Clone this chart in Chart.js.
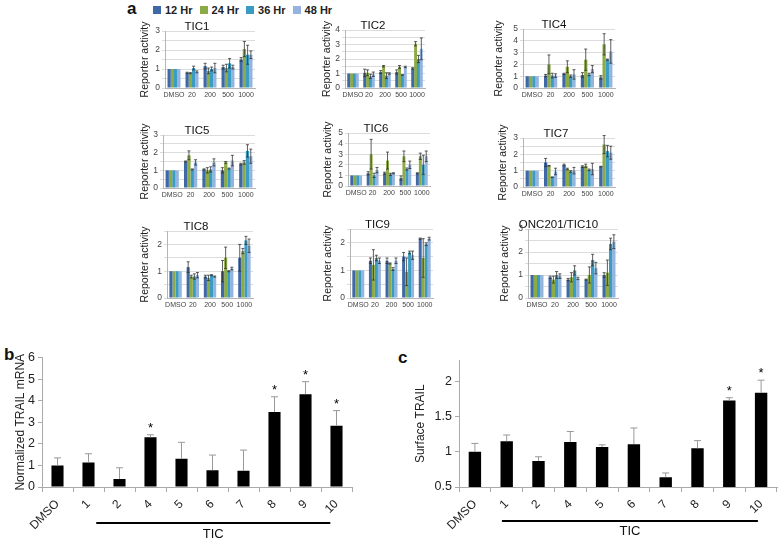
<!DOCTYPE html>
<html>
<head>
<meta charset="utf-8">
<script src="https://cdn.jsdelivr.net/npm/chart.js@4.4.0/dist/chart.umd.min.js"></script>
<style>
  body { margin: 0; background: #fff; }
  #fig { position: relative; width: 778px; height: 541px; overflow: hidden; background: #fff;
         font-family: "Liberation Sans", Arial, sans-serif; color: #111; }
  #fig canvas { position: absolute; }
  .panel { position: absolute; font-weight: bold; font-size: 17px; line-height: 17px; }
  #legend { position: absolute; left: 153px; top: 4px; font-size: 11px; font-weight: bold; color: #222; white-space: nowrap; }
  #legend span.item { display: inline-block; margin-right: 7px; }
  #legend span.sw { display: inline-block; width: 8px; height: 8px; margin-right: 4px; vertical-align: -0px; }
</style>
</head>
<body>
<div id="fig">
  <div class="panel" style="left:127px;top:0px">a</div>
  <div class="panel" style="left:4px;top:346px">b</div>
  <div class="panel" style="left:398px;top:349px">c</div>
  <div id="legend"></div>
</div>
<script>
// ---- panel a data: rows = 12, 24, 36, 48 Hr; columns = doses ----
const doses = ['DMSO', '20', '200', '500', '1000'];
const hours = ['12 Hr', '24 Hr', '36 Hr', '48 Hr'];

const tic1Vals = [[1, 0.8, 1.15, 1.1, 1.5], [1, 0.78, 0.9, 1.05, 2.05], [1, 1.05, 1.0, 1.3, 1.75], [1, 0.85, 1.05, 1.1, 1.75]];
const tic1Errs = [[0, 0.03, 0.15, 0.1, 0.1], [0, 0.03, 0.15, 0.2, 0.4], [0, 0.1, 0.1, 0.25, 0.5], [0, 0.05, 0.25, 0.1, 0.2]];

const tic2Vals = [[1, 1.05, 1.1, 1.1, 1.35], [1, 1.05, 1.5, 1.45, 3.05], [1, 0.8, 0.85, 0.9, 2.0], [1, 0.95, 1.0, 1.45, 2.7]];
const tic2Errs = [[0, 0.25, 0.1, 0.15, 0.05], [0, 0.2, 0.05, 0.1, 0.15], [0, 0.15, 0.2, 0.02, 0.25], [0, 0.15, 0.05, 0.05, 0.75]];

const tic4Vals = [[1, 1.05, 1.2, 1.1, 0.9], [1, 2.0, 1.8, 2.4, 3.7], [1, 1.05, 1.0, 1.15, 2.4], [1, 1.05, 1.15, 1.6, 3.1]];
const tic4Errs = [[0, 0.1, 0.05, 0.2, 0.15], [0, 0.8, 0.5, 0.9, 0.9], [0, 0.2, 0.1, 0.1, 0.05], [0, 0.15, 0.4, 0.3, 1.0]];

const tic5Vals = [[1, 1.5, 1.05, 1.0, 1.35], [1, 1.85, 1.0, 1.45, 1.45], [1, 1.05, 1.05, 1.1, 2.1], [1, 1.45, 1.45, 1.55, 1.8]];
const tic5Errs = [[0, 0.03, 0.03, 0.15, 0.05], [0, 0.25, 0.15, 0.05, 0.1], [0, 0.03, 0.15, 0.03, 0.35], [0, 0.15, 0.2, 0.3, 0.4]];

const tic6Vals = [[1, 1.2, 1.2, 0.75, 1.2], [1, 3.0, 2.4, 2.8, 2.8], [1, 1.0, 1.1, 1.6, 2.0], [1, 1.5, 1.2, 2.0, 2.8]];
const tic6Errs = [[0, 0.15, 0.1, 0.2, 0.05], [0, 1.4, 0.8, 0.5, 0.3], [0, 0.2, 0.1, 0.1, 0.9], [0, 0.25, 0.05, 0.35, 0.5]];

const tic7Vals = [[1, 1.5, 1.35, 1.25, 1.25], [1, 1.3, 1.1, 1.3, 2.6], [1, 0.6, 0.95, 1.05, 2.2], [1, 0.95, 1.0, 1.1, 2.1]];
const tic7Errs = [[0, 0.25, 0.05, 0.05, 0.02], [0, 0.02, 0.05, 0.1, 0.55], [0, 0.02, 0.05, 0.05, 0.35], [0, 0.2, 0.2, 0.35, 0.4]];

const tic8Vals = [[1, 1.15, 0.8, 1.0, 1.5], [1, 0.8, 0.75, 1.5, 1.75], [1, 0.8, 0.85, 1.0, 2.15], [1, 0.85, 0.8, 1.1, 1.95]];
const tic8Errs = [[0, 0.2, 0.05, 0.4, 0.5], [0, 0.05, 0.1, 0.4, 0.1], [0, 0.1, 0.02, 0.02, 0.15], [0, 0.1, 0.02, 0.05, 0.25]];

const tic9Vals = [[1, 1.35, 1.35, 1.5, 2.15], [1, 1.2, 1.25, 0.95, 1.45], [1, 1.45, 1.05, 1.65, 1.95], [1, 1.35, 1.35, 1.55, 2.15]];
const tic9Errs = [[0, 0.1, 0.1, 0.15, 0.02], [0, 0.55, 0.02, 0.5, 0.7], [0, 0.1, 0.05, 0.05, 0.05], [0, 0.1, 0.1, 0.15, 0.05]];

const tic10Vals = [[1, 0.9, 0.8, 0.8, 1.0], [1, 0.8, 0.9, 1.0, 1.1], [1, 1.0, 1.2, 1.65, 2.35], [1, 0.95, 0.85, 1.3, 2.45]];
const tic10Errs = [[0, 0.05, 0.05, 0.02, 0.1], [0, 0.15, 0.2, 0.35, 0.55], [0, 0.15, 0.2, 0.25, 0.25], [0, 0.1, 0.05, 0.25, 0.3]];

// ---- panels b and c ----
const ticLabels = ['DMSO', '1', '2', '4', '5', '6', '7', '8', '9', '10'];
const mrnaVals = [1.0, 1.14, 0.37, 2.3, 1.31, 0.78, 0.75, 3.48, 4.3, 2.84];
const mrnaErrs = [0.35, 0.4, 0.52, 0.12, 0.76, 0.7, 0.96, 0.7, 0.58, 0.7];
const mrnaStars = [false, false, false, true, false, false, false, true, true, true];

const surfVals = [1.0, 1.15, 0.87, 1.14, 1.07, 1.11, 0.64, 1.05, 1.73, 1.84];
const surfErrs = [0.12, 0.09, 0.06, 0.15, 0.03, 0.23, 0.06, 0.11, 0.04, 0.18];
const surfStars = [false, false, false, false, false, false, false, false, true, true];

const hourColors = ['#3e69a6', '#8cab47', '#3a9bc3', '#94b4df'];

Chart.defaults.font.family = '"Liberation Sans", Arial, sans-serif';
Chart.defaults.color = '#333';

const fig = document.getElementById('fig');

// legend for panel a
const legend = document.getElementById('legend');
hours.forEach((h, i) => {
  const it = document.createElement('span');
  it.className = 'item';
  it.innerHTML = '<span class="sw" style="background:' + hourColors[i] + '"></span>' + h;
  legend.appendChild(it);
});

const errorBars = {
  id: 'errorBars',
  afterDatasetsDraw(chart, args, o) {
    const ctx = chart.ctx, y = chart.scales.y;
    ctx.save();
    chart.data.datasets.forEach((ds, i) => {
      const meta = chart.getDatasetMeta(i);
      meta.data.forEach((bar, j) => {
        const v = ds.data[j];
        const e = ds.errors ? ds.errors[j] : 0;
        const top = y.getPixelForValue(v + e);
        if (e) {
          const bot = o.both ? y.getPixelForValue(v - e) : y.getPixelForValue(v);
          ctx.strokeStyle = o.color;
          ctx.lineWidth = o.width;
          ctx.beginPath();
          ctx.moveTo(bar.x, top); ctx.lineTo(bar.x, bot);
          ctx.moveTo(bar.x - o.cap, top); ctx.lineTo(bar.x + o.cap, top);
          if (o.both) { ctx.moveTo(bar.x - o.cap, bot); ctx.lineTo(bar.x + o.cap, bot); }
          ctx.stroke();
        }
        if (ds.stars && ds.stars[j]) {
          ctx.fillStyle = '#000';
          ctx.font = '13px "Liberation Sans", Arial, sans-serif';
          ctx.textAlign = 'center';
          ctx.textBaseline = 'alphabetic';
          ctx.fillText('*', bar.x, top - 3);
        }
      });
    });
    ctx.restore();
  }
};

const ticBracket = {
  id: 'ticBracket',
  afterDraw(chart, args, o) {
    const ctx = chart.ctx, x = chart.scales.x;
    const x1 = x.getPixelForValue(o.from), x2 = x.getPixelForValue(o.to);
    const yy = chart.chartArea.bottom + o.offset;
    ctx.save();
    ctx.strokeStyle = '#000';
    ctx.lineWidth = 2;
    ctx.beginPath(); ctx.moveTo(x1, yy); ctx.lineTo(x2, yy); ctx.stroke();
    ctx.fillStyle = '#111';
    ctx.font = '13px "Liberation Sans", Arial, sans-serif';
    ctx.textAlign = 'center';
    ctx.textBaseline = 'middle';
    ctx.fillText(o.label, (x1 + x2) / 2, yy + o.textGap);
    ctx.restore();
  }
};

// layout of the nine small charts (plot area in page pixels)
const smallLayout = [
  { title: 'TIC1', vals: tic1Vals, errs: tic1Errs, max: 3, step: 0.5, l: 165, t: 31, r: 255, b: 88, yW: 26 },
  { title: 'TIC2', vals: tic2Vals, errs: tic2Errs, max: 4, step: 0.5, l: 345, t: 30, r: 425, b: 88, yW: 24 },
  { title: 'TIC4', vals: tic4Vals, errs: tic4Errs, max: 5, step: 1, l: 523, t: 29, r: 615, b: 88, yW: 30 },
  { title: 'TIC5', vals: tic5Vals, errs: tic5Errs, max: 3, step: 0.5, l: 163, t: 135, r: 255, b: 188, yW: 24 },
  { title: 'TIC6', vals: tic6Vals, errs: tic6Errs, max: 5, step: 1, l: 348, t: 133, r: 430, b: 186, yW: 26 },
  { title: 'TIC7', vals: tic7Vals, errs: tic7Errs, max: 3, step: 0.5, l: 523, t: 138, r: 615, b: 187, yW: 26 },
  { title: 'TIC8', vals: tic8Vals, errs: tic8Errs, max: 2.5, step: 0.5, l: 167, t: 231, r: 253, b: 298, yW: 28 },
  { title: 'TIC9', vals: tic9Vals, errs: tic9Errs, max: 2.5, step: 0.5, l: 350, t: 229, r: 433, b: 298, yW: 28 },
  { title: 'ONC201/TIC10', vals: tic10Vals, errs: tic10Errs, max: 3, step: 0.5, l: 528, t: 229, r: 618, b: 298, yW: 29 }
];

function addCanvas(left, top, w, h) {
  const cv = document.createElement('canvas');
  cv.width = w; cv.height = h;
  cv.style.left = left + 'px';
  cv.style.top = top + 'px';
  fig.appendChild(cv);
  return cv;
}

smallLayout.forEach(s => {
  // title box is 12px line minus 2px, so the title sits close to the plot
  const titleH = 10, padT = 4, padR = s.yW, xH = 14;
  const w = s.r - s.l + s.yW + padR;
  const h = s.b - s.t + titleH + padT + xH;
  const cv = addCanvas(s.l - s.yW, s.t - titleH - padT, w, h);
  new Chart(cv, {
    type: 'bar',
    data: {
      labels: doses,
      datasets: hours.map((hr, i) => ({
        label: hr,
        data: s.vals[i],
        errors: s.errs[i],
        backgroundColor: hourColors[i],
        borderWidth: 0,
        categoryPercentage: 0.72,
        barPercentage: 1
      }))
    },
    options: {
      responsive: false,
      animation: false,
      layout: { padding: { top: padT, right: padR, left: 0, bottom: 0 } },
      plugins: {
        legend: { display: false },
        tooltip: { enabled: false },
        title: { display: true, text: s.title, color: '#111', font: { size: 11.5, weight: 'normal', lineHeight: '12px' },
                 padding: { top: 0, bottom: -2 } },
        errorBars: { color: '#333', width: 0.8, cap: 1.5, both: true }
      },
      scales: {
        x: {
          grid: { display: false, drawTicks: false },
          border: { color: '#b5b5b5' },
          ticks: { font: { size: 7 }, color: '#444', padding: 3, maxRotation: 0, autoSkip: false },
          afterFit: sc => { sc.height = xH; }
        },
        y: {
          min: 0, max: s.max,
          grid: { color: '#dcdcdc', tickLength: 3 },
          border: { color: '#b5b5b5' },
          ticks: { stepSize: s.step, autoSkip: false, font: { size: 8.5 }, color: '#444', padding: 2,
                   callback: v => Number.isInteger(v) ? String(v) : '' },
          title: { display: true, text: 'Reporter activity', color: '#222', font: { size: 10.5, lineHeight: '12px' }, padding: 0 },
          afterFit: sc => { sc.width = s.yW; }
        }
      }
    },
    plugins: [errorBars]
  });
});

function bigChart(cfg) {
  const cv = addCanvas(cfg.cl, cfg.ct, cfg.cw, cfg.ch);
  new Chart(cv, {
    type: 'bar',
    data: {
      labels: ticLabels,
      datasets: [{
        data: cfg.vals, errors: cfg.errs, stars: cfg.stars,
        backgroundColor: '#000', borderWidth: 0,
        categoryPercentage: 1, barPercentage: 0.39
      }]
    },
    options: {
      responsive: false,
      animation: false,
      layout: { padding: { top: cfg.padT, right: cfg.padR, left: 0, bottom: 0 } },
      plugins: {
        legend: { display: false },
        tooltip: { enabled: false },
        errorBars: { color: '#999', width: 1, cap: 3.5, both: false },
        ticBracket: cfg.bracket
      },
      scales: {
        x: {
          grid: { display: true, drawOnChartArea: false, offset: true, tickLength: 5, color: '#aaa' },
          border: { color: '#aaa' },
          ticks: { font: { size: 12 }, color: '#222', padding: 5, minRotation: 45, maxRotation: 45, autoSkip: false },
          afterFit: sc => { sc.height = cfg.xH; }
        },
        y: {
          min: cfg.min, max: cfg.max,
          afterBuildTicks: sc => { sc.ticks = cfg.yTicks.map(v => ({ value: v })); },
          grid: { drawOnChartArea: false, tickLength: 4, color: '#aaa' },
          border: { color: '#aaa' },
          ticks: { font: { size: 12.5 }, color: '#222', padding: 3, callback: v => String(v) },
          title: { display: true, text: cfg.yTitle, color: '#222', font: { size: 12 }, padding: { top: 13, bottom: 0 } },
          afterFit: sc => { sc.width = cfg.yW; }
        }
      }
    },
    plugins: [errorBars, ticBracket]
  });
}

// b: plot area 42..352 x 355..487
bigChart({
  cl: 0, ct: 347, cw: 358, ch: 194, padT: 8, padR: 6, xH: 54, yW: 42,
  vals: mrnaVals, errs: mrnaErrs, stars: mrnaStars,
  min: 0, max: 6, yTicks: [0, 1, 2, 3, 4, 5, 6], yTitle: 'Normalized TRAIL mRNA',
  bracket: { from: 1.25, to: 8.8, offset: 36, textGap: 11, label: 'TIC' }
});

// c: plot area 459..777 x 358..487
bigChart({
  cl: 400, ct: 350, cw: 378, ch: 191, padT: 8, padR: 1, xH: 54, yW: 59,
  vals: surfVals, errs: surfErrs, stars: surfStars,
  min: 0.5, max: 2.3, yTicks: [0.5, 1, 1.5, 2], yTitle: 'Surface TRAIL',
  bracket: { from: 0.85, to: 8.9, offset: 34, textGap: 10, label: 'TIC' }
});
</script>
</body>
</html>
